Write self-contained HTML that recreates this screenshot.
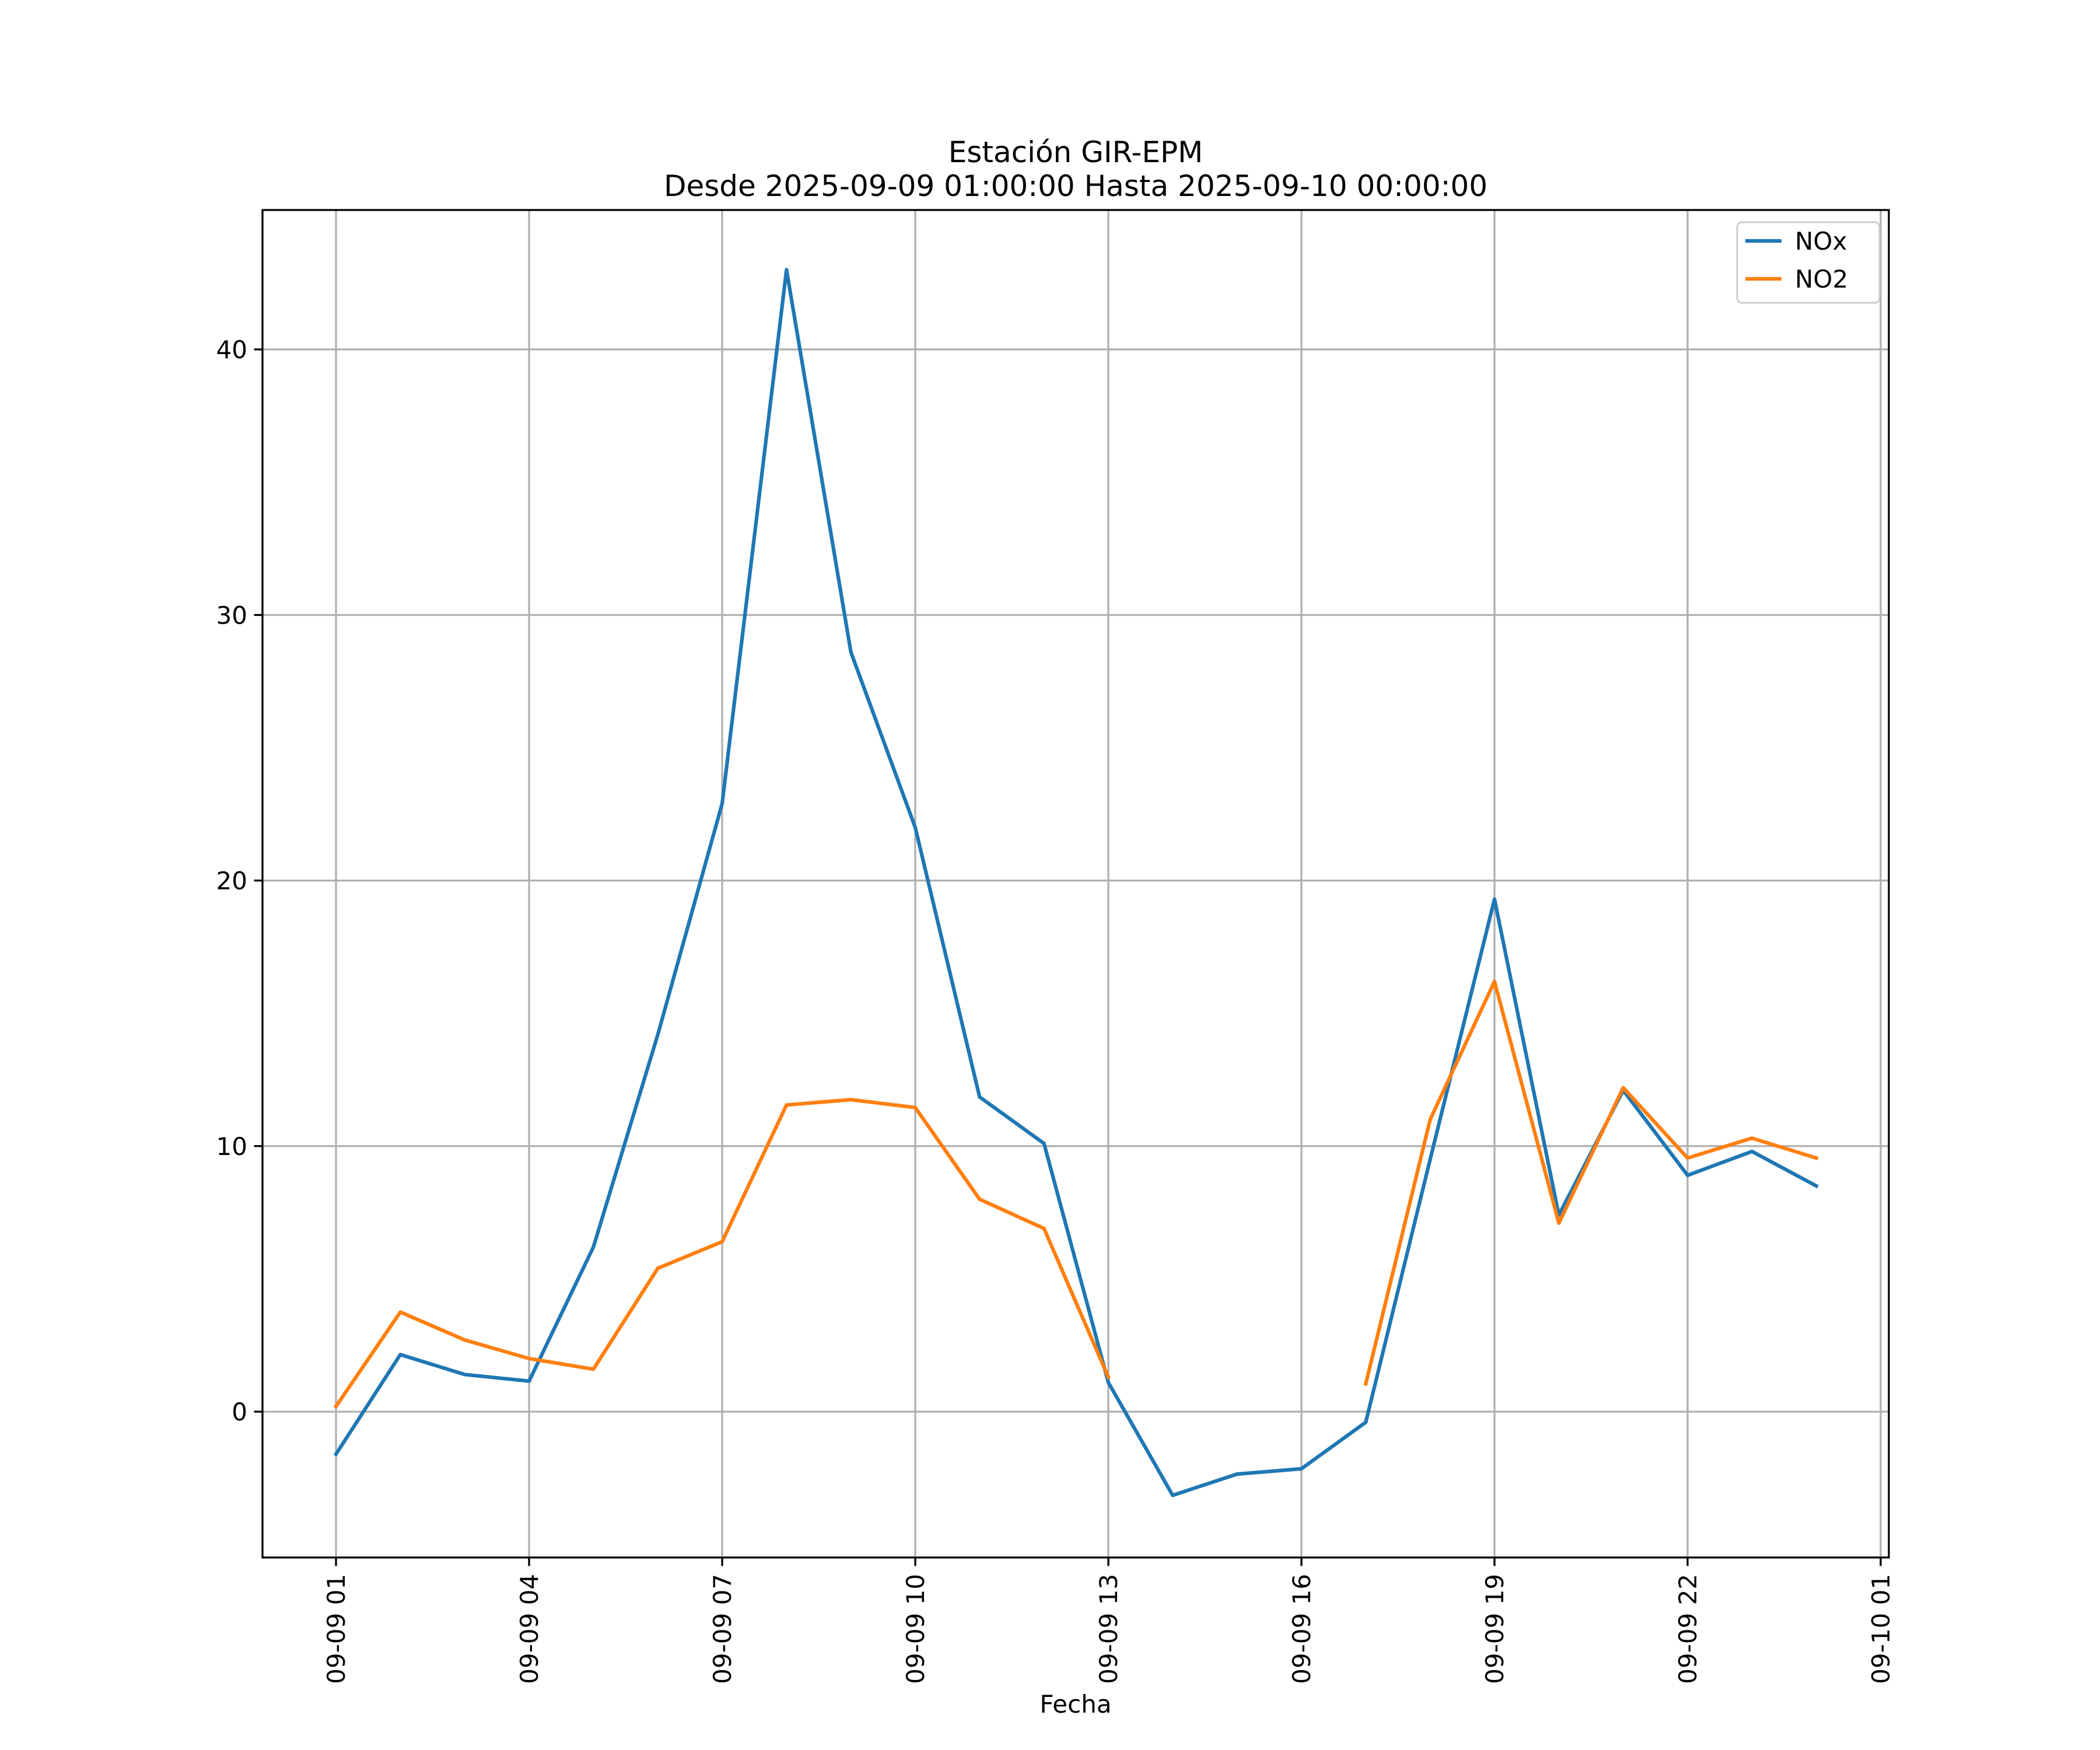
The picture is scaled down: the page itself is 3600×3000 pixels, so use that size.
<!DOCTYPE html>
<html><head><meta charset="utf-8">
<style>
html,body{margin:0;padding:0;background:#fff;}
svg{display:block;font-family:"DejaVu Sans","Liberation Sans",sans-serif;}
</style></head>
<body>
<svg id="chart" width="3600" height="3000" viewBox="0 0 3600 3000" xmlns="http://www.w3.org/2000/svg">
<rect width="3600" height="3000" fill="#fff"/>
<text x="1844" y="278" font-size="50" text-anchor="middle">Estación GIR-EPM</text>
<text x="1844" y="336" font-size="50" text-anchor="middle">Desde 2025-09-09 01:00:00 Hasta 2025-09-10 00:00:00</text>
<g id="grid"></g>
<g id="series"></g>
<rect x="450" y="360" width="2788" height="2310" fill="none" stroke="#000" stroke-width="3.3"/>
<g id="ticks"></g>
<text x="1844" y="2936" font-size="42" text-anchor="middle">Fecha</text>
<g>
<rect x="2978" y="381" width="244" height="138" rx="8" fill="#fff" fill-opacity="0.8" stroke="#ccc" stroke-width="3"/>
<line x1="2992" y1="413" x2="3054" y2="413" stroke="#1f77b4" stroke-width="6.25"/>
<text x="3077" y="428" font-size="42">NOx</text>
<line x1="2992" y1="478" x2="3054" y2="478" stroke="#ff7f0e" stroke-width="6.25"/>
<text x="3077" y="493" font-size="42">NO2</text>
</g>
</svg>
<script>
const hours = [1,2,3,4,5,6,7,8,9,10,11,12,13,14,15,16,17,18,19,20,21,22,23,24];
const noxValues = [-1.6,2.15,1.4,1.15,6.2,14.2,22.9,43.0,28.6,22.0,11.85,10.1,1.1,-3.15,-2.35,-2.15,-0.4,9.5,19.3,7.4,12.1,8.9,9.8,8.5];
const no2Values = [0.2,3.75,2.7,2.0,1.6,5.4,6.4,11.55,11.75,11.45,8.0,6.9,1.3,null,null,null,1.05,11.0,16.2,7.1,12.2,9.55,10.3,9.55];
const yTicks = [0,10,20,30,40];
const xTickHours = [1,4,7,10,13,16,19,22,25];
const xTickLabels = ["09-09 01","09-09 04","09-09 07","09-09 10","09-09 13","09-09 16","09-09 19","09-09 22","09-10 01"];

const NS="http://www.w3.org/2000/svg";
const L=450,R=3238,T=360,B=2670;
const x = h => 576 + (h-1)*(3224-576)/24;
const y = v => 2420 - v*(2420-599)/40;
function mk(tag, attrs, parent){const e=document.createElementNS(NS,tag);for(const k in attrs)e.setAttribute(k,attrs[k]);parent.appendChild(e);return e;}
const grid=document.getElementById('grid'), ticks=document.getElementById('ticks'), series=document.getElementById('series');
xTickHours.forEach((h,i)=>{
  const gx=x(h);
  const gl=mk('line',{x1:gx,y1:T,x2:gx,y2:B,stroke:'#b0b0b0','stroke-width':3.3},grid);
  
  
  const tk=mk('line',{x1:gx,y1:B,x2:gx,y2:B+14.5,stroke:'#000','stroke-width':3.3},ticks);
  
  
  const t=mk('text',{x:0,y:0,'font-size':42,'text-anchor':'end',transform:`translate(${gx+15},${B+28}) rotate(-90)`},ticks);
  t.textContent=xTickLabels[i];
  
  
});
yTicks.forEach(v=>{
  const gy=y(v);
  const gl=mk('line',{x1:L,y1:gy,x2:R,y2:gy,stroke:'#b0b0b0','stroke-width':3.3},grid);
  
  
  const tk=mk('line',{x1:L-14.5,y1:gy,x2:L,y2:gy,stroke:'#000','stroke-width':3.3},ticks);
  
  
  const t=mk('text',{x:L-26,y:gy+15,'font-size':42,'text-anchor':'end'},ticks);
  t.textContent=String(v);
  
  
});
function drawSeries(vals,color,name){
  let d='',pen=false;
  vals.forEach((v,i)=>{
    if(v===null){pen=false;return;}
    d+=(pen?'L':'M')+x(hours[i]).toFixed(1)+','+y(v).toFixed(1)+' ';
    pen=true;
  });
  const p=mk('path',{d:d,fill:'none',stroke:color,'stroke-width':6.25,'stroke-linejoin':'round','stroke-linecap':'square'},series);
  
  
}
drawSeries(noxValues,'#1f77b4','nox-line');
drawSeries(no2Values,'#ff7f0e','no2-line');
</script>
</body></html>
